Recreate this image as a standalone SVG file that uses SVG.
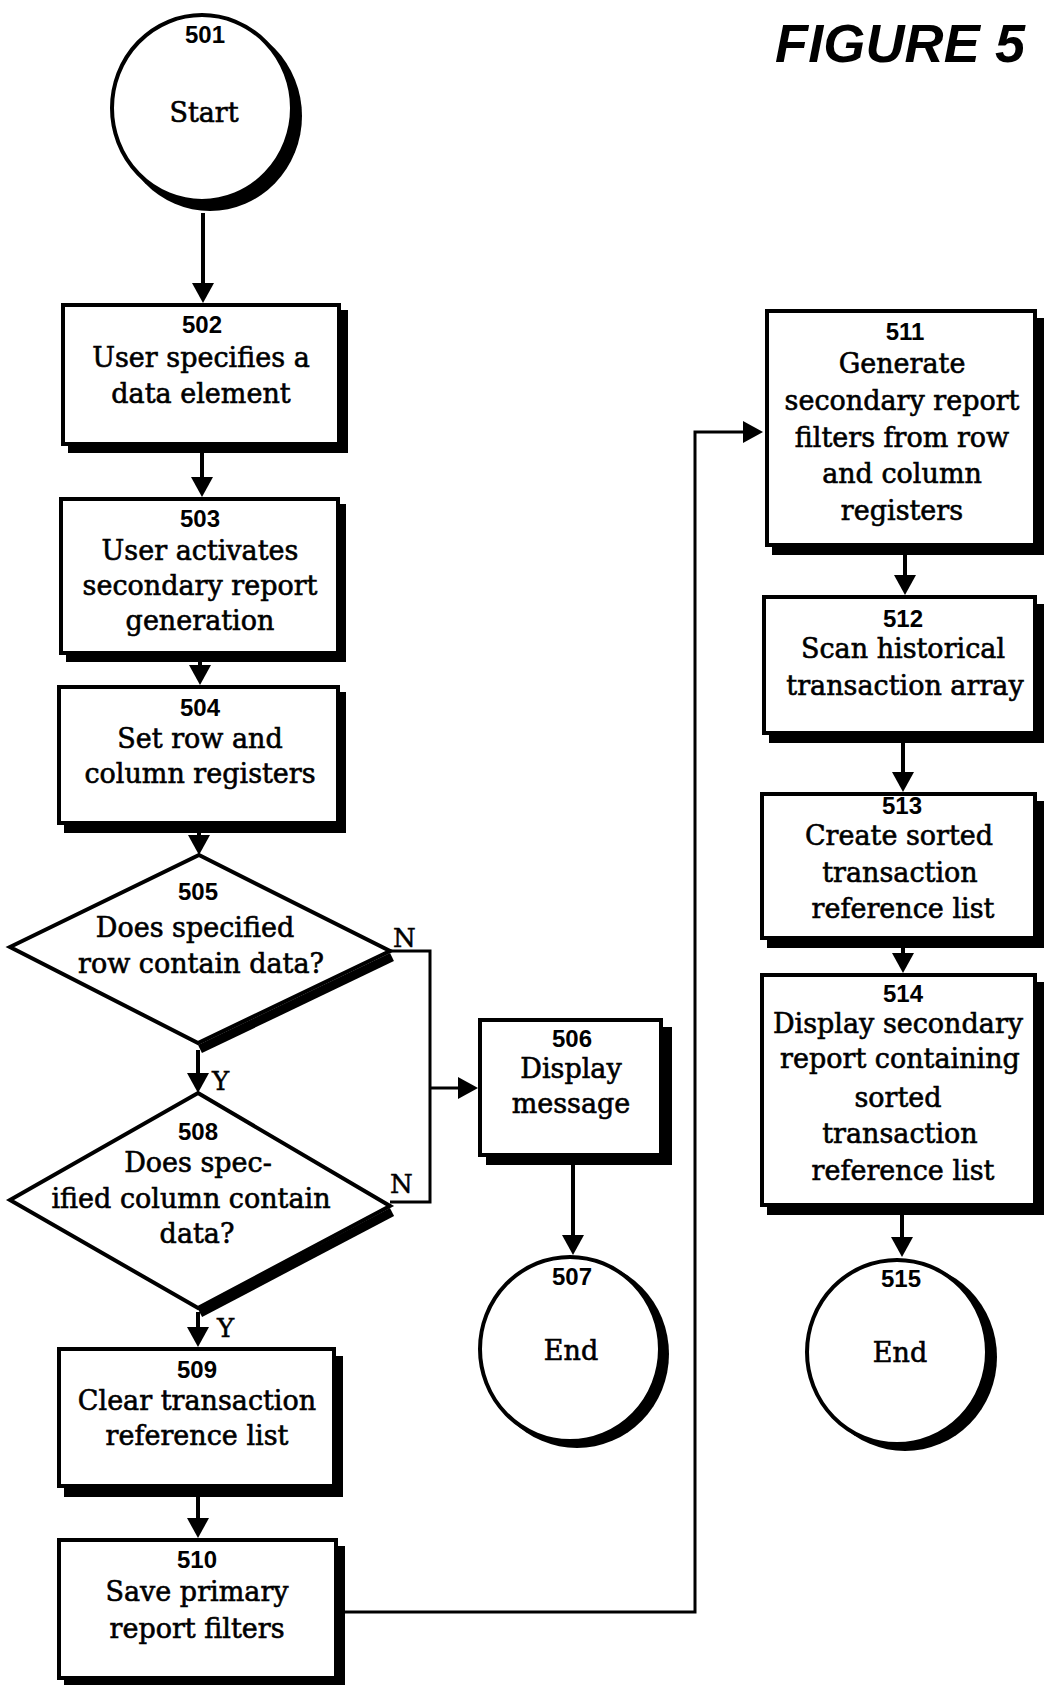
<svg xmlns="http://www.w3.org/2000/svg" width="1044" height="1685" viewBox="0 0 1044 1685">
<style>
.bx{fill:#fff;stroke:#000;stroke-width:4}
.sh{fill:#000}
.num{font-family:"Liberation Sans",Arial,sans-serif;font-weight:bold;font-size:24px;text-anchor:middle;fill:#000}
.lbl{font-family:"DejaVu Serif","Liberation Serif",serif;font-size:27px;text-anchor:middle;fill:#000;stroke:#000;stroke-width:0.6}
.yn{font-family:"DejaVu Serif","Liberation Serif",serif;font-size:26px;fill:#000;stroke:#000;stroke-width:0.5}
.c{fill:none;stroke:#000;stroke-width:4}
.t{stroke-width:3}
.band{stroke:#000;stroke-width:9;fill:none}
.title{font-family:"Liberation Sans",Arial,sans-serif;font-weight:bold;font-style:italic;font-size:54px;fill:#000}
</style>
<defs>
<marker id="ah" markerUnits="userSpaceOnUse" markerWidth="20" markerHeight="22" refX="10" refY="11" orient="auto">
<path d="M0,0 L20,11 L0,22 z" fill="#000"/>
</marker>
</defs>
<rect width="1044" height="1685" fill="#fff"/>
<text class="title" x="775" y="62" textLength="250">FIGURE 5</text>

<g id="connectors">
<path class="c" d="M203,213 V293" marker-end="url(#ah)"/>
<path class="c" d="M202,453 V487" marker-end="url(#ah)"/>
<path class="c" d="M200,662 V675" marker-end="url(#ah)"/>
<path class="c" d="M199,832 V845" marker-end="url(#ah)"/>
<path class="c" d="M198,1050 V1083" marker-end="url(#ah)"/>
<path class="c" d="M198,1312 V1337" marker-end="url(#ah)"/>
<path class="c" d="M198,1496 V1528" marker-end="url(#ah)"/>
<path class="c t" d="M390,951 H430 V1202 H390"/>
<path class="c t" d="M430,1088 H468" marker-end="url(#ah)"/>
<path class="c" d="M573,1165 V1245" marker-end="url(#ah)"/>
<path class="c t" d="M345,1612 H695 V432 H753" marker-end="url(#ah)"/>
<path class="c" d="M905,555 V585" marker-end="url(#ah)"/>
<path class="c" d="M903,743 V782" marker-end="url(#ah)"/>
<path class="c" d="M903,948 V963" marker-end="url(#ah)"/>
<path class="c" d="M902,1215 V1247" marker-end="url(#ah)"/>
<text class="yn" x="393" y="947">N</text>
<text class="yn" x="390" y="1193">N</text>
<text class="yn" x="212" y="1090">Y</text>
<text class="yn" x="217" y="1337">Y</text>
</g>

<g id="n501">
<ellipse class="sh" cx="210" cy="116" rx="92" ry="95"/>
<ellipse class="bx" cx="202" cy="108" rx="90" ry="93"/>
<text class="num" x="205" y="43">501</text>
<text class="lbl" x="204" y="122">Start</text>
</g>

<g id="n502">
<rect class="sh" x="68" y="310" width="280" height="143"/>
<rect class="bx" x="63" y="305" width="276" height="139"/>
<text class="num" x="202" y="333">502</text>
<text class="lbl" x="201" y="367">User specifies a</text>
<text class="lbl" x="201" y="403">data element</text>
</g>

<g id="n503">
<rect class="sh" x="66" y="504" width="280" height="158"/>
<rect class="bx" x="61" y="499" width="277" height="154"/>
<text class="num" x="200" y="527">503</text>
<text class="lbl" x="200" y="560">User activates</text>
<text class="lbl" x="200" y="595">secondary report</text>
<text class="lbl" x="200" y="630">generation</text>
</g>

<g id="n504">
<rect class="sh" x="64" y="692" width="282" height="141"/>
<rect class="bx" x="59" y="687" width="279" height="136"/>
<text class="num" x="200" y="716">504</text>
<text class="lbl" x="200" y="748">Set row and</text>
<text class="lbl" x="200" y="783">column registers</text>
</g>

<g id="n505">
<path class="band" d="M392,957 L200,1049"/>
<polygon class="bx" points="199,855 390,951 198,1043 10,947"/>
<text class="num" x="198" y="900">505</text>
<text class="lbl" x="195" y="937">Does specified</text>
<text class="lbl" x="201" y="973">row contain data?</text>
</g>

<g id="n506">
<rect class="sh" x="486" y="1027" width="186" height="138"/>
<rect class="bx" x="480" y="1020" width="181" height="135"/>
<text class="num" x="572" y="1047">506</text>
<text class="lbl" x="571" y="1078">Display</text>
<text class="lbl" x="571" y="1113">message</text>
</g>

<g id="n507">
<ellipse class="sh" cx="577" cy="1354" rx="92" ry="94"/>
<ellipse class="bx" cx="570" cy="1349" rx="90" ry="92"/>
<text class="num" x="572" y="1285">507</text>
<text class="lbl" x="571" y="1360">End</text>
</g>

<g id="n508">
<path class="band" d="M392,1212 L200,1313"/>
<polygon class="bx" points="198,1093 390,1206 198,1308 10,1200"/>
<text class="num" x="198" y="1140">508</text>
<text class="lbl" x="198" y="1172">Does spec-</text>
<text class="lbl" x="191" y="1208">ified column contain</text>
<text class="lbl" x="197" y="1243">data?</text>
</g>

<g id="n509">
<rect class="sh" x="64" y="1356" width="279" height="141"/>
<rect class="bx" x="59" y="1349" width="275" height="137"/>
<text class="num" x="197" y="1378">509</text>
<text class="lbl" x="197" y="1410">Clear transaction</text>
<text class="lbl" x="197" y="1445">reference list</text>
</g>

<g id="n510">
<rect class="sh" x="64" y="1546" width="281" height="139"/>
<rect class="bx" x="59" y="1540" width="277" height="138"/>
<text class="num" x="197" y="1568">510</text>
<text class="lbl" x="197" y="1601">Save primary</text>
<text class="lbl" x="197" y="1638">report filters</text>
</g>

<g id="n511">
<rect class="sh" x="772" y="318" width="272" height="237"/>
<rect class="bx" x="767" y="311" width="268" height="234"/>
<text class="num" x="905" y="340">511</text>
<text class="lbl" x="902" y="373">Generate</text>
<text class="lbl" x="902" y="410">secondary report</text>
<text class="lbl" x="902" y="447">filters from row</text>
<text class="lbl" x="902" y="483">and column</text>
<text class="lbl" x="902" y="520">registers</text>
</g>

<g id="n512">
<rect class="sh" x="769" y="604" width="275" height="139"/>
<rect class="bx" x="764" y="597" width="271" height="136"/>
<text class="num" x="903" y="627">512</text>
<text class="lbl" x="903" y="658">Scan historical</text>
<text class="lbl" x="905" y="695">transaction array</text>
</g>

<g id="n513">
<rect class="sh" x="767" y="801" width="277" height="147"/>
<rect class="bx" x="762" y="794" width="273" height="144"/>
<text class="num" x="902" y="814">513</text>
<text class="lbl" x="899" y="845">Create sorted</text>
<text class="lbl" x="900" y="882">transaction</text>
<text class="lbl" x="903" y="918">reference list</text>
</g>

<g id="n514">
<rect class="sh" x="767" y="982" width="277" height="233"/>
<rect class="bx" x="762" y="975" width="273" height="230"/>
<text class="num" x="903" y="1002">514</text>
<text class="lbl" x="898" y="1033">Display secondary</text>
<text class="lbl" x="900" y="1068">report containing</text>
<text class="lbl" x="898" y="1107">sorted</text>
<text class="lbl" x="900" y="1143">transaction</text>
<text class="lbl" x="903" y="1180">reference list</text>
</g>

<g id="n515">
<ellipse class="sh" cx="905" cy="1357" rx="92" ry="94"/>
<ellipse class="bx" cx="897" cy="1352" rx="90" ry="92"/>
<text class="num" x="901" y="1287">515</text>
<text class="lbl" x="900" y="1362">End</text>
</g>
</svg>
